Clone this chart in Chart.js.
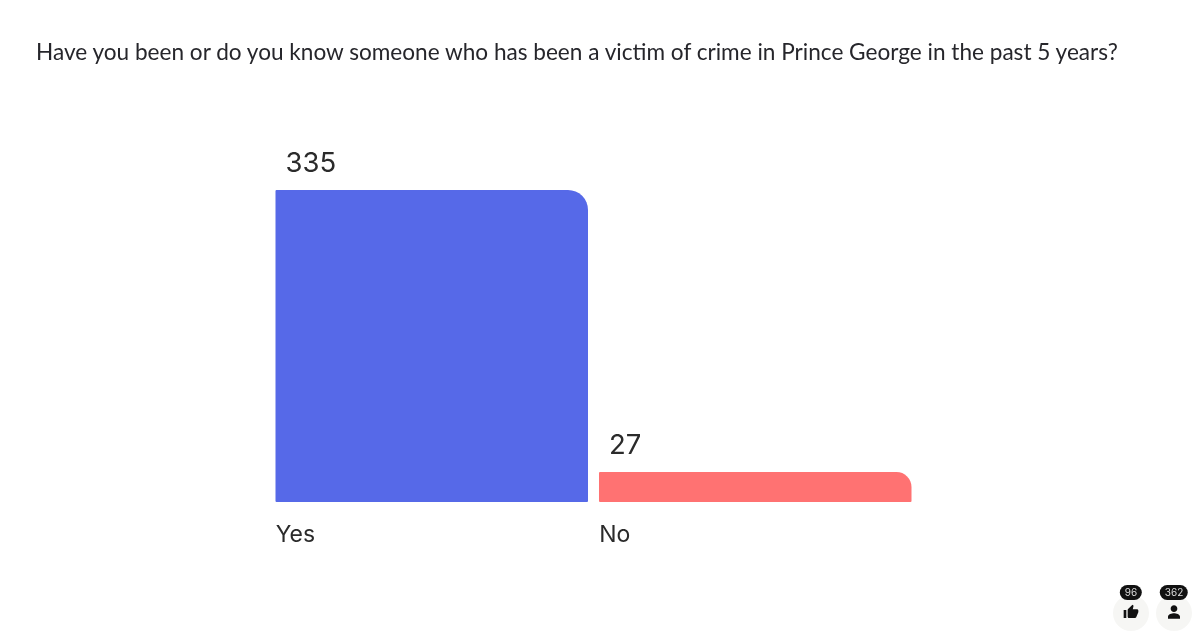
<!DOCTYPE html>
<html>
<head>
<meta charset="utf-8">
<style>
  html, body { margin: 0; padding: 0; background: #fff; }
  #wrap { position: relative; width: 1200px; height: 636px; overflow: hidden; font-family: Inter, sans-serif; }
  #title { position: absolute; left: 36px; top: 38px; font-family: Lato, sans-serif; font-size: 22.6px; line-height: 28px; color: #26262b; white-space: nowrap; }
  .stat { position: absolute; top: 595px; width: 36px; height: 36px; border-radius: 50%; background: #f6f6f4; }
  .stat svg { position: absolute; left: 10px; top: 9px; width: 16px; height: 16px; }
  .stat span { position: absolute; left: 50%; top: -10px; transform: translateX(-50%); height: 15px; line-height: 15px; padding: 0 5px; min-width: 12px; text-align: center; border-radius: 8px; background: #111; color: #ddd; font-size: 10px; }
</style>
</head>
<body>
<div id="wrap">
  <div id="title">Have you been or do you know someone who has been a victim of crime in Prince George in the past 5 years?</div>
  <canvas id="myChart" width="1200" height="636"></canvas>
  <div class="stat" style="left:1113px">
    <span id="likes"></span>
    <svg viewBox="0 0 24 24"><path fill="#111" d="M1 21h4V9H1v12zm22-11c0-1.1-.9-2-2-2h-6.3l1-4.6v-.3c0-.4-.2-.8-.4-1.1L14.2 1 7.600 7.600C7.200 8 7 8.500 7 9v10c0 1.100.9 2 2 2h9c.8 0 1.500-.5 1.800-1.200l3-7.100c.1-.2.2-.5.2-.7v-2z"/></svg>
  </div>
  <div class="stat" style="left:1156px">
    <span id="voters"></span>
    <svg viewBox="0 0 24 24"><path fill="#111" d="M12 12c2.800 0 5-2.200 5-5s-2.200-5-5-5-5 2.200-5 5 2.200 5 5 5zm0 2c-3.300 0-9 1.700-9 5v3h18v-3c0-3.300-5.700-5-9-5z"/></svg>
  </div>
</div>

<script src="https://cdn.jsdelivr.net/npm/chart.js"></script>
<script>
  const categories = ['Yes', 'No'];
  const votes = [335, 27];
  const barColors = ['#5669e8', '#ff7272'];
  const likeCount = 96;
  const voterCount = 362;

  document.getElementById('likes').textContent = likeCount;
  document.getElementById('voters').textContent = voterCount;

  // value labels sit above each bar, left aligned with a small indent
  const valueLabels = {
    id: 'valueLabels',
    afterDatasetsDraw(chart) {
      const c = chart.ctx;
      c.save();
      c.font = '27.5px Inter';
      c.fillStyle = '#2b2b2b';
      c.textAlign = 'left';
      c.textBaseline = 'alphabetic';
      chart.getDatasetMeta(0).data.forEach((bar, i) => {
        c.fillText(votes[i], bar.x - bar.width / 2 + 10, bar.y - 18);
      });
      c.restore();
    }
  };

  const myChart = new Chart(document.getElementById('myChart'), {
    type: 'bar',
    data: {
      labels: categories,
      datasets: [{
        data: votes,
        backgroundColor: barColors,
        barPercentage: 0.966,
        categoryPercentage: 1,
        minBarLength: 30,
        borderSkipped: false,
        borderRadius: { topLeft: 1, topRight: 20, bottomLeft: 1, bottomRight: 1 }
      }]
    },
    options: {
      responsive: false,
      animation: false,
      layout: { padding: { left: 270, right: 283, top: 190, bottom: 0 } },
      plugins: { legend: { display: false }, tooltip: { enabled: false } },
      scales: {
        x: {
          border: { display: false },
          grid: { display: false },
          ticks: {
            align: 'start',
            labelOffset: -156,
            padding: 11,
            maxRotation: 0,
            color: '#2b2b2b',
            font: { family: 'Inter', size: 23 }
          },
          afterFit(scale) { scale.height = 134; }
        },
        y: { display: false, min: 0, max: 335 }
      }
    },
    plugins: [valueLabels]
  });
</script>
</body>
</html>
